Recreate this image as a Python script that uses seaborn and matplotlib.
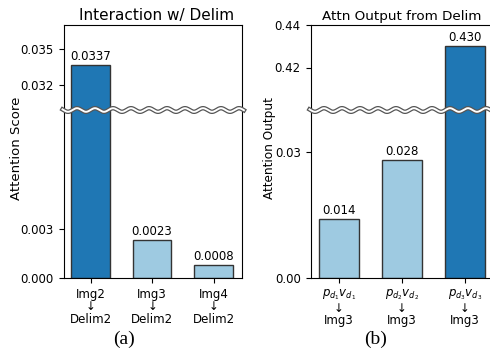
import numpy as np
import matplotlib
matplotlib.use("Agg")
import matplotlib.pyplot as plt
import matplotlib.patheffects as pe
from matplotlib.lines import Line2D
import seaborn as sns

# ---- data ----
score_cats = ["Img2\n↓\nDelim2", "Img3\n↓\nDelim2", "Img4\n↓\nDelim2"]
score_vals = [0.0337, 0.0023, 0.0008]
score_labels = ["0.0337", "0.0023", "0.0008"]

out_cats = [r"$p_{d_1}v_{d_1}$" + "\n↓\nImg3",
            r"$p_{d_2}v_{d_2}$" + "\n↓\nImg3",
            r"$p_{d_3}v_{d_3}$" + "\n↓\nImg3"]
out_vals = [0.014, 0.028, 0.430]
out_labels = ["0.014", "0.028", "0.430"]

DARK = "#1f77b4"
LIGHT = "#9ecae1"
score_colors = [DARK, LIGHT, LIGHT]
out_colors = [LIGHT, LIGHT, DARK]

W, H = 490, 349
fig = plt.figure(figsize=(W / 100, H / 100), dpi=100)
plt.rcParams["font.family"] = ["DejaVu Sans"]


def px_axes(x0, x1, y0, y1):
    return fig.add_axes([x0 / W, (H - y1) / H, (x1 - x0) / W, (y1 - y0) / H])


def panel(x0, x1, cats, vals, labels, colors, top_lim, bot_lim, top_ticks, bot_ticks,
          top_fmt, bot_fmt, xlim, title, title_size, title_x, ylabel, ylabel_x, ylabel_size):
    ax_t = px_axes(x0, x1, 25, 110)
    ax_b = px_axes(x0, x1, 110, 278)
    for ax, lim in ((ax_t, top_lim), (ax_b, bot_lim)):
        sns.barplot(x=cats, y=vals, hue=cats, palette=colors, legend=False,
                    saturation=1, width=0.63, edgecolor="#333333", linewidth=1.0, ax=ax)
        ax.set_ylim(*lim)
        ax.set_xlim(*xlim)
        ax.set_xlabel("")
        ax.set_ylabel("")
        # labels only for bars whose top is inside this axes
        for cont, v, lab in zip(ax.containers, vals, labels):
            txt = lab if lim[0] <= v <= lim[1] else ""
            ax.bar_label(cont, labels=[txt], padding=1.5, fontsize=8.5)
    ax_t.spines["bottom"].set_visible(False)
    ax_b.spines["top"].set_visible(False)
    ax_t.tick_params(axis="x", bottom=False, labelbottom=False)
    ax_b.tick_params(axis="x", labelsize=8.5)
    for lab in ax_b.get_xticklabels():
        lab.set_linespacing(0.95)
    ax_t.set_yticks(top_ticks)
    ax_t.set_yticklabels([top_fmt.format(t) for t in top_ticks])
    ax_b.set_yticks(bot_ticks)
    ax_b.set_yticklabels([bot_fmt.format(t) for t in bot_ticks])
    for ax in (ax_t, ax_b):
        ax.tick_params(axis="y", labelsize=8.5)
    ax_t.set_title(title, fontsize=title_size, pad=3.5, x=title_x)
    fig.text(ylabel_x / W, 1 - 148 / H, ylabel, rotation=90, ha="center",
             va="center", fontsize=ylabel_size)
    # wavy break marker
    xs = np.linspace(x0 - 1, min(x1 + 2, W), 400)
    ys = 110 + 1.8 * np.sin(2 * np.pi * (xs - x0) / 18.0)
    ln = Line2D(xs / W, 1 - ys / H, transform=fig.transFigure, color="white",
                lw=1.4, zorder=10,
                path_effects=[pe.Stroke(linewidth=3.2, foreground="#555555"), pe.Normal()])
    fig.add_artist(ln)
    return ax_t, ax_b


panel(63.5, 241.9, score_cats, score_vals, score_labels, score_colors,
      (0.02986, 0.03706), (0.0, 0.01022), [0.032, 0.035], [0.0, 0.003],
      "{:.3f}", "{:.3f}", (-0.44, 2.46), "Interaction w/ Delim", 11, 0.52,
      "Attention Score", 17, 9.5)

panel(310.5, 493.8, out_cats, out_vals, out_labels, out_colors,
      (0.40, 0.44), (0.0, 0.04), [0.42, 0.44], [0.0, 0.03],
      "{:.2f}", "{:.2f}", (-0.45, 2.46), "Attn Output from Delim", 9.7, 0.5,
      "Attention Output", 270, 8.7)

fig.text(124 / W, 1 - 339 / H, "(a)", ha="center", va="center", fontsize=14,
         family=["Liberation Serif", "DejaVu Serif"])
fig.text(376 / W, 1 - 339 / H, "(b)", ha="center", va="center", fontsize=14,
         family=["Liberation Serif", "DejaVu Serif"])

fig.savefig("out.png", dpi=100)
